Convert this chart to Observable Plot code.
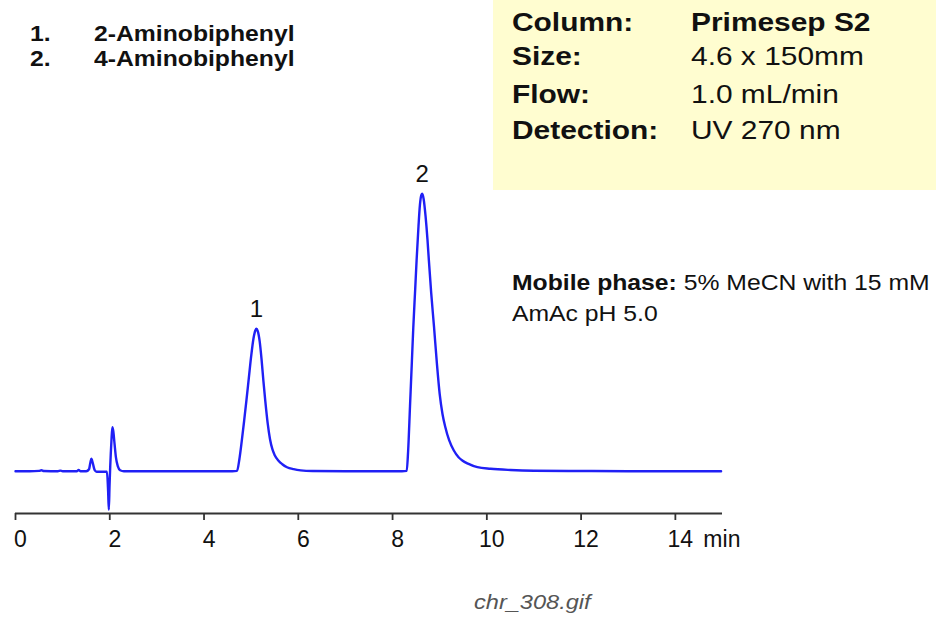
<!DOCTYPE html>
<html>
<head>
<meta charset="utf-8">
<script src="https://cdn.jsdelivr.net/npm/d3@7"></script>
<script src="https://cdn.jsdelivr.net/npm/@observablehq/plot@0.6"></script>
<style>
  html, body { margin: 0; padding: 0; background: #fff; }
  body { font-family: "Liberation Sans", Arial, Helvetica, sans-serif; }
  #wrap { position: relative; width: 936px; height: 617px; overflow: hidden; background: #fff; }
  #chart { position: absolute; left: 0; top: 0; }
  .t { position: absolute; white-space: nowrap; line-height: 1; transform-origin: 0 0; transform: scaleX(1.15); color: #111; }
  .b { font-weight: bold; }
  #box { position: absolute; left: 493px; top: 0; width: 443px; height: 190px; background: #fffdd0; }
</style>
</head>
<body>
<div id="wrap">
  <div id="chart"></div>
  <div id="box"></div>
  <div id="overlay"></div>
</div>
<script>
// ---------- data ----------
const compoundNumbers = ["1.", "2."];
const compoundNames = ["2-Aminobiphenyl", "4-Aminobiphenyl"];

const conditionLabels = ["Column:", "Size:", "Flow:", "Detection:"];
const conditionValues = ["Primesep S2", "4.6 x 150mm", "1.0 mL/min", "UV 270 nm"];

const mobilePhaseLabel = "Mobile phase:";
const mobilePhaseLine1 = " 5% MeCN with 15 mM";
const mobilePhaseLine2 = "AmAc pH 5.0";
const caption = "chr_308.gif";

const xTicks = [0, 2, 4, 6, 8, 10, 12, 14];
const xUnit = "min";

const peakLabels = ["1", "2"];
const peakTimes = [5.11, 8.63];
const peakHeights = [142.4, 277.4];

// chromatogram trace (time in min, detector signal in arbitrary units)
const times = [
  0, 0.3, 0.5, 0.55, 0.6, 0.9, 0.95, 1.0, 1.3, 1.34, 1.38, 1.5,
  1.56, 1.59, 1.61, 1.64, 1.68, 1.72, 1.8, 1.94, 1.965, 1.98, 1.995, 2.01,
  2.035, 2.055, 2.075, 2.10, 2.13, 2.17, 2.22, 2.30, 3.0, 4.0, 4.6,
  4.70, 4.75, 4.80, 4.85, 4.90, 4.95, 5.00, 5.05, 5.09, 5.11, 5.14, 5.18,
  5.22, 5.26, 5.30, 5.35, 5.40, 5.45, 5.50, 5.58, 5.66, 5.76, 5.90, 6.05,
  6.3, 7.0, 8.0, 8.20, 8.30,
  8.33, 8.37, 8.41, 8.44, 8.48, 8.51, 8.55, 8.58, 8.61, 8.63, 8.66, 8.70,
  8.74, 8.77, 8.82, 8.88, 8.94, 9.00, 9.06, 9.12, 9.20, 9.30, 9.40, 9.48,
  9.60, 9.80, 10.08, 10.5, 11.0, 12.0, 13.0, 14.0, 14.97
];
const signal = [
  0, 0, 0.3, 1.0, 0.2, 0, 0.6, 0, 0, 1.2, 0, 0,
  2, 9, 12.4, 8, 1, -0.5, -0.5, -0.5, -20, -38.6, -15, 5,
  30, 44, 40, 28, 14, 5, 1, 0, 0, 0, 0,
  0.3, 12, 30, 50, 71, 93, 115, 133, 141, 142.4, 140, 130,
  112, 90, 70, 48, 32, 22, 16, 10.5, 7, 4, 2, 0.8,
  0.2, 0, 0, 0, 0.3,
  20, 65, 110, 144, 182, 211, 245, 266, 276, 277.4, 272, 255,
  232, 211, 178, 144, 108, 77, 57, 44, 31, 20.7, 14, 10.7,
  7.5, 4, 2.4, 1.2, 0.5, 0.2, 0, 0, 0
];

// ---------- chart ----------
const trace = times.map((t, i) => ({t, s: signal[i]}));
const peaks = peakLabels.map((label, i) => ({label, t: peakTimes[i], s: peakHeights[i]}));
const yDomain = [-42.3, 450.7];

const fontFamily = "'Liberation Sans', Arial, Helvetica, sans-serif";

const plot = Plot.plot({
  width: 936,
  height: 560,
  marginLeft: 15,
  marginRight: 214,
  marginTop: 20,
  marginBottom: 47,
  style: {fontFamily, background: "transparent", overflow: "visible"},
  x: {domain: [0, 15]},
  y: {domain: yDomain, axis: null},
  marks: [
    Plot.ruleY([yDomain[0]], {stroke: "#333", strokeWidth: 1.8}),
    Plot.axisX({ticks: xTicks, tickSize: 7, tickFormat: () => "", stroke: "#333", strokeWidth: 1.8, label: null}),
    Plot.axisX({ticks: xTicks, tickSize: 0, tickPadding: 17, dx: 5, fontSize: 23, fill: "#111", label: null}),
    Plot.text([xTicks[xTicks.length - 1]], {
      x: d => d, text: () => xUnit, frameAnchor: "bottom", dy: 17, dx: 28,
      textAnchor: "start", lineAnchor: "top", fontSize: 23, fill: "#111"
    }),
    Plot.line(trace, {x: "t", y: "s", stroke: "#2020f5", strokeWidth: 2.4, curve: "monotone-x"}),
    Plot.text(peaks, {x: "t", y: "s", text: "label", dy: -12, lineAnchor: "bottom", fontSize: 24, fill: "#111"})
  ]
});
document.getElementById("chart").appendChild(plot);

// ---------- text overlays ----------
const overlay = document.getElementById("overlay");
function addText(str, left, baseline, size, cls, extra) {
  const el = document.createElement("div");
  el.className = "t " + (cls || "");
  el.textContent = str;
  el.style.left = left + "px";
  el.style.top = (baseline - 0.8465 * size) + "px";
  el.style.fontSize = size + "px";
  if (extra) Object.assign(el.style, extra);
  overlay.appendChild(el);
  return el;
}

const legendBaselines = [42, 67];
compoundNumbers.forEach((n, i) => {
  addText(n, 30, legendBaselines[i], 21.5, "b");
  addText(compoundNames[i], 94, legendBaselines[i], 21.5, "b");
});

const condBaselines = [31.5, 65.5, 103, 139.5];
conditionLabels.forEach((l, i) => {
  addText(l, 512, condBaselines[i], 26, "b");
  addText(conditionValues[i], 691, condBaselines[i], 26, i === 0 ? "b" : "");
});

const mp = addText("", 512, 291, 21.5, "");
const mpB = document.createElement("span");
mpB.style.fontWeight = "bold";
mpB.textContent = mobilePhaseLabel;
mp.appendChild(mpB);
mp.appendChild(document.createTextNode(mobilePhaseLine1));
addText(mobilePhaseLine2, 512, 322, 21.5, "");

addText(caption, 474, 609, 20.5, "", {fontStyle: "italic", color: "#555"});
</script>
</body>
</html>
